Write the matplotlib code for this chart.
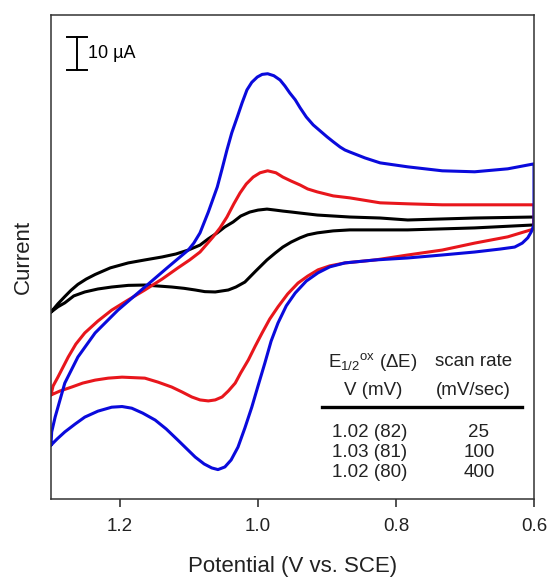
"""Cyclic voltammograms at three scan rates (reduction shown upward)."""

import matplotlib

matplotlib.use("Agg")
import matplotlib.pyplot as plt

plt.rcParams["font.family"] = ["Liberation Sans", "DejaVu Sans"]
plt.rcParams["mathtext.fontset"] = "custom"
plt.rcParams["mathtext.rm"] = "Liberation Sans"
plt.rcParams["mathtext.it"] = "Liberation Sans:italic"

# Potential in V vs. SCE, current in microamps (arbitrary zero).
# Upper branch scans 1.30 -> 0.60 V, lower branch returns 0.60 -> 1.30 V.
blue_upper_v = [
    1.300, 1.299, 1.294, 1.280, 1.261, 1.236, 1.203, 1.164, 1.130, 1.101,
    1.093, 1.084, 1.072, 1.059, 1.052, 1.045, 1.038, 1.030, 1.023, 1.016,
    1.009, 1.001, 0.994, 0.986, 0.977, 0.968, 0.961, 0.954, 0.946, 0.939,
    0.930, 0.920, 0.910, 0.900, 0.891, 0.881, 0.874, 0.867, 0.845, 0.823,
    0.803, 0.783, 0.758, 0.733, 0.686, 0.638, 0.600,
]
blue_upper_i = [
    -66.7, -62.7, -58.2, -47.9, -40.0, -32.7, -25.8, -18.8, -12.7, -7.6,
    -5.5, -2.4, 3.9, 11.5, 17.0, 22.7, 27.9, 32.7, 37.0, 40.9,
    43.2, 44.8, 45.6, 45.8, 45.2, 43.9, 42.1, 40.0, 37.9, 35.5,
    32.7, 30.3, 28.5, 26.7, 25.2, 23.6, 22.7, 22.1, 20.3, 18.8,
    18.2, 17.6, 17.0, 16.4, 16.1, 17.0, 18.5,
]
blue_lower_v = [
    0.600, 0.604, 0.609, 0.617, 0.628, 0.649, 0.686, 0.733, 0.783, 0.830,
    0.874, 0.896, 0.913, 0.930, 0.946, 0.959, 0.971, 0.981, 0.990, 1.000,
    1.009, 1.019, 1.029, 1.039, 1.048, 1.058, 1.067, 1.078, 1.091, 1.116,
    1.133, 1.149, 1.167, 1.183, 1.197, 1.212, 1.232, 1.251, 1.265, 1.280,
    1.291, 1.300,
]
blue_lower_i = [
    0.0, -2.1, -3.9, -5.5, -6.7, -7.3, -8.2, -9.1, -10.0, -10.6,
    -11.5, -12.7, -14.5, -17.0, -20.6, -24.5, -29.7, -35.2, -41.8, -48.8,
    -55.2, -61.5, -67.3, -71.2, -73.3, -74.1, -73.6, -72.4, -70.3, -65.2,
    -61.8, -59.1, -57.0, -55.5, -55.0, -55.2, -56.4, -58.2, -60.3, -62.7,
    -64.8, -66.7,
]

red_upper_v = [
    1.300, 1.297, 1.290, 1.275, 1.264, 1.251, 1.232, 1.212, 1.188, 1.164,
    1.139, 1.116, 1.099, 1.084, 1.065, 1.055, 1.045, 1.035, 1.026, 1.017,
    1.007, 0.997, 0.986, 0.974, 0.964, 0.952, 0.939, 0.928, 0.914, 0.891,
    0.867, 0.823, 0.783, 0.733, 0.686, 0.600,
]
red_upper_i = [
    -51.5, -48.8, -46.1, -40.0, -36.1, -32.7, -29.1, -25.8, -22.7, -19.7,
    -16.4, -13.0, -10.6, -8.2, -3.6, -0.9, 2.4, 6.4, 9.7, 12.4,
    14.5, 15.8, 16.4, 15.8, 14.5, 13.3, 12.1, 10.9, 10.0, 8.8,
    8.2, 6.7, 6.4, 6.1, 6.1, 6.1,
]
red_lower_v = [
    0.600, 0.638, 0.686, 0.733, 0.783, 0.830, 0.874, 0.896, 0.913, 0.928,
    0.942, 0.957, 0.971, 0.983, 0.994, 1.004, 1.014, 1.025, 1.033, 1.043,
    1.052, 1.062, 1.072, 1.084, 1.096, 1.110, 1.125, 1.145, 1.164, 1.197,
    1.217, 1.236, 1.254, 1.270, 1.287, 1.300,
]
red_lower_i = [
    -1.2, -3.6, -5.5, -7.6, -9.1, -10.6, -11.5, -12.4, -13.6, -15.5,
    -17.6, -20.9, -24.8, -28.5, -32.7, -36.7, -40.9, -44.8, -47.9, -50.3,
    -52.1, -53.0, -53.3, -53.0, -52.1, -50.6, -49.1, -47.6, -46.4, -46.1,
    -46.4, -47.0, -47.9, -49.1, -50.3, -51.5,
]

black_upper_v = [
    1.300, 1.290, 1.280, 1.271, 1.261, 1.249, 1.236, 1.214, 1.188, 1.164,
    1.139, 1.119, 1.101, 1.084, 1.072, 1.059, 1.048, 1.036, 1.025, 1.012,
    1.000, 0.987, 0.975, 0.964, 0.951, 0.939, 0.914, 0.867, 0.823, 0.783,
    0.686, 0.600,
]
black_upper_i = [
    -26.4, -23.9, -21.7, -19.8, -18.0, -16.4, -15.0, -13.0, -11.5, -10.6,
    -9.7, -8.8, -7.6, -6.1, -4.2, -2.4, -0.6, 0.9, 2.7, 3.9,
    4.5, 4.8, 4.5, 4.2, 3.9, 3.6, 3.0, 2.4, 2.1, 1.5,
    2.1, 2.4,
]
black_lower_v = [
    0.600, 0.686, 0.783, 0.867, 0.891, 0.914, 0.928, 0.939, 0.952, 0.964,
    0.975, 0.987, 1.003, 1.019, 1.032, 1.043, 1.062, 1.077, 1.091, 1.107,
    1.125, 1.164, 1.188, 1.212, 1.232, 1.251, 1.267, 1.280, 1.290, 1.300,
]
black_lower_i = [
    0.0, -0.9, -1.5, -1.5, -1.8, -2.4, -3.0, -3.9, -5.2, -6.7,
    -8.5, -10.6, -13.9, -17.3, -18.8, -19.7, -20.3, -20.2, -19.7, -19.2,
    -18.8, -18.2, -18.3, -18.8, -19.4, -20.3, -21.5, -23.6, -24.8, -26.4,
]

x_ticks = [1.2, 1.0, 0.8, 0.6]
table_header_left = ["E$_{1/2}$$^{\\rm ox}$ (ΔE)", "V (mV)"]
table_header_right = ["scan rate", "(mV/sec)"]
table_half_wave = ["1.02 (82)", "1.03 (81)", "1.02 (80)"]
table_scan_rate = ["25", "100", "400"]
SCALE_BAR_UA = 10

fig = plt.figure(figsize=(5.5, 5.8), dpi=100)
ax = fig.add_axes([0.0927, 0.1397, 0.8782, 0.8345])

line_kw = dict(linewidth=2.2, solid_joinstyle="round", solid_capstyle="round")
curves = [
    (black_upper_v, black_upper_i, black_lower_v, black_lower_i, "black"),
    (red_upper_v, red_upper_i, red_lower_v, red_lower_i, "#e8161c"),
    (blue_upper_v, blue_upper_i, blue_lower_v, blue_lower_i, "#0a0adc"),
]
for up_v, up_i, low_v, low_i, color in curves:
    ax.plot(up_v + low_v, up_i + low_i, color=color, **line_kw)

ax.set_xlim(1.3, 0.6)
ax.set_ylim(-83.0, 63.6)
ax.set_xticks(x_ticks)
ax.set_xticklabels([f"{t:.1f}" for t in x_ticks])
ax.set_yticks([])
ax.tick_params(axis="x", direction="out", length=6, width=1.1, pad=8,
               labelsize=13.5, colors="#222222")
for spine in ax.spines.values():
    spine.set_linewidth(1.1)
    spine.set_color("#333333")

ax.set_xlabel("Potential (V vs. SCE)", fontsize=16, labelpad=15, color="#222222")
ax.set_ylabel("Current", fontsize=16, labelpad=12, color="#222222")

# 10 uA scale bar
bar_x, bar_y0, cap = 1.262, 47.0, 0.0145
ax.plot([bar_x, bar_x], [bar_y0, bar_y0 + SCALE_BAR_UA], color="black", lw=1.4)
ax.plot([bar_x - cap, bar_x + cap], [bar_y0, bar_y0], color="black", lw=1.4)
ax.plot([bar_x - cap, bar_x + cap], [bar_y0 + SCALE_BAR_UA] * 2, color="black", lw=1.4)
ax.text(1.247, bar_y0 + SCALE_BAR_UA / 2, f"{SCALE_BAR_UA} µA", fontsize=13,
        va="center", ha="left")

# summary table
tkw = dict(transform=ax.transAxes, fontsize=13.5, ha="center", va="center",
           color="#222222")
for text, y in zip(table_header_left, [0.283, 0.225]):
    ax.text(0.667, y, text, **tkw)
for text, y in zip(table_header_right, [0.283, 0.225]):
    ax.text(0.874, y, text, **tkw)
ax.plot([0.561, 0.975], [0.190, 0.190], transform=ax.transAxes,
        color="black", lw=2.4)
for left, right, y in zip(table_half_wave, table_scan_rate, [0.138, 0.097, 0.054]):
    ax.text(0.660, y, left, **tkw)
    ax.text(0.886, y, right, **tkw)

fig.savefig("out.png", dpi=100)
